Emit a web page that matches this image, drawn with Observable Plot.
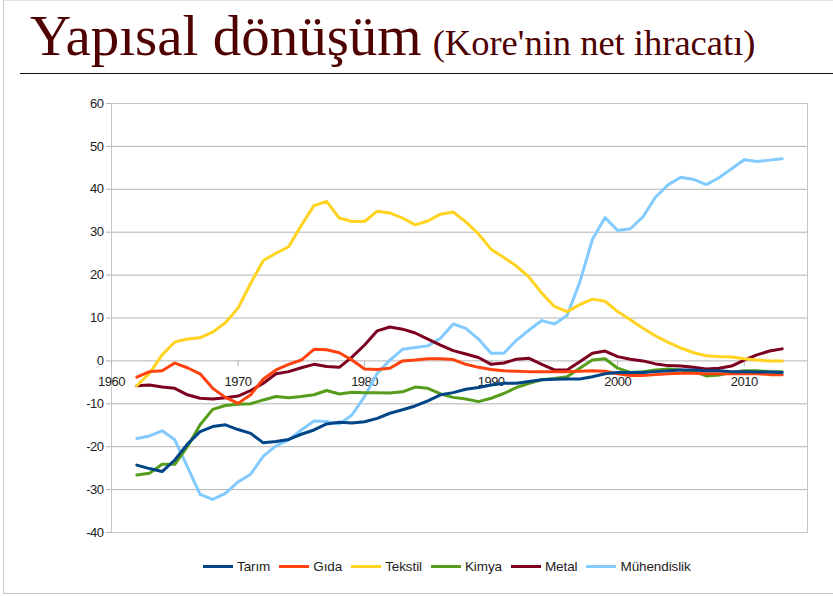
<!DOCTYPE html>
<html>
<head>
<meta charset="utf-8">
<script src="https://cdn.jsdelivr.net/npm/d3@7"></script>
<script src="https://cdn.jsdelivr.net/npm/@observablehq/plot@0.6"></script>
<style>
  html, body { margin: 0; padding: 0; background: #fff; }
  #page { position: relative; width: 833px; height: 596px; overflow: hidden; background: #fff; }
  #frame { position: absolute; left: 3px; top: 0; width: 840px; height: 592px; border-left: 1px solid #c8c8c8; border-bottom: 1px solid #c8c8c8; border-top: 1px solid #e0e0e0; }
  #title { position: absolute; left: 30px; top: 7px; white-space: nowrap; font-family: "Liberation Serif", "Times New Roman", serif; color: #4f0000; line-height: 57px; }
  #title .main { font-size: 57px; }
  #title .sub { font-size: 36.5px; margin-left: 11px; }
  #rule { position: absolute; left: 20px; top: 73px; width: 813px; height: 0; border-top: 1.5px solid #111; }
  #chart { position: absolute; left: 0; top: 80px; }
  #legend { position: absolute; left: 203px; top: 559px; display: flex; align-items: center; gap: 9px; font-family: "Liberation Sans", Arial, sans-serif; font-size: 13.5px; color: #222; letter-spacing: -0.1px; }
  #legend .item { display: flex; align-items: center; gap: 4px; }
  #legend .sw { width: 30px; height: 3px; }
</style>
</head>
<body>
<div id="page">
  <div id="frame"></div>
  <div id="title"><span class="main">Yapısal dönüşüm</span><span class="sub">(Kore'nin net ihracatı)</span></div>
  <div id="rule"></div>
  <div id="chart"></div>
  <div id="legend"></div>
</div>
<script>
const years = [1962,1963,1964,1965,1966,1967,1968,1969,1970,1971,1972,1973,1974,1975,1976,1977,1978,1979,1980,1981,1982,1983,1984,1985,1986,1987,1988,1989,1990,1991,1992,1993,1994,1995,1996,1997,1998,1999,2000,2001,2002,2003,2004,2005,2006,2007,2008,2009,2010,2011,2012,2013];

const seriesNames = ["Tarım", "Gıda", "Tekstil", "Kimya", "Metal", "Mühendislik"];
const seriesColors = ["#004586", "#ff420e", "#ffd320", "#579d1c", "#7e0021", "#83caff"];

const tarim = [-24.3,-25.1,-25.8,-23.1,-19.4,-16.5,-15.3,-14.9,-16.0,-16.9,-19.1,-18.8,-18.3,-17.1,-16.1,-14.7,-14.3,-14.5,-14.2,-13.4,-12.2,-11.4,-10.5,-9.3,-7.9,-7.4,-6.6,-6.2,-5.6,-5.2,-5.2,-4.8,-4.4,-4.3,-4.2,-4.2,-3.7,-3.0,-2.7,-2.7,-2.7,-2.5,-2.3,-2.1,-2.1,-2.3,-2.3,-2.5,-2.5,-2.6,-2.6,-2.7];
const gida = [-3.8,-2.5,-2.3,-0.5,-1.6,-3.0,-6.4,-8.5,-9.9,-7.9,-4.2,-2.1,-0.8,0.2,2.7,2.6,1.9,0.2,-1.9,-2.0,-1.7,0.0,0.2,0.5,0.5,0.3,-0.8,-1.5,-2.0,-2.3,-2.4,-2.5,-2.5,-2.5,-2.5,-2.4,-2.3,-2.4,-3.0,-3.4,-3.4,-3.2,-3.0,-2.9,-2.9,-3.0,-3.0,-3.0,-3.0,-3.0,-3.2,-3.2];
const tekstil = [-5.8,-2.9,1.4,4.4,5.1,5.4,6.7,8.9,12.3,18.1,23.4,25.1,26.6,31.6,36.2,37.2,33.3,32.5,32.5,34.9,34.5,33.3,31.7,32.6,34.2,34.7,32.4,29.6,26.0,24.1,22.1,19.5,15.8,12.7,11.5,13.1,14.4,13.9,11.5,9.6,7.6,5.8,4.3,3.0,1.9,1.2,1.0,0.9,0.5,0.2,0.0,0.0];
const kimya = [-26.6,-26.2,-24.1,-24.1,-20.0,-14.9,-11.3,-10.4,-10.1,-10.0,-9.1,-8.3,-8.6,-8.3,-7.9,-6.9,-7.7,-7.3,-7.4,-7.4,-7.5,-7.2,-6.1,-6.4,-7.7,-8.5,-8.9,-9.5,-8.7,-7.6,-6.2,-5.2,-4.4,-4.1,-3.7,-1.7,0.2,0.5,-1.7,-2.7,-2.5,-2.1,-1.9,-2.1,-2.5,-3.5,-3.3,-2.7,-2.3,-2.3,-2.5,-2.5];
const metal = [-5.8,-5.6,-6.1,-6.4,-7.9,-8.7,-8.9,-8.6,-8.2,-6.9,-5.2,-3.0,-2.5,-1.6,-0.8,-1.3,-1.5,0.9,3.7,7.0,7.9,7.4,6.5,5.1,3.7,2.4,1.6,0.8,-0.8,-0.5,0.4,0.6,-0.8,-2.1,-2.1,-0.2,1.8,2.3,1.0,0.4,0.0,-0.7,-1.1,-1.2,-1.5,-1.9,-1.7,-1.2,0.2,1.4,2.3,2.8];
const muhendislik = [-18.1,-17.5,-16.3,-18.4,-24.7,-31.1,-32.3,-30.9,-28.2,-26.4,-22.2,-19.8,-18.4,-16.1,-14.0,-14.1,-14.7,-12.6,-8.3,-2.9,0.2,2.7,3.1,3.5,5.3,8.6,7.6,5.1,1.8,1.8,4.8,7.2,9.4,8.6,10.6,18.3,28.3,33.4,30.4,30.8,33.6,38.2,41.1,42.8,42.3,41.1,42.7,44.8,46.9,46.5,46.8,47.1];

const xTicks = [1960, 1970, 1980, 1990, 2000, 2010];
const yTicks = [-40, -30, -20, -10, 0, 10, 20, 30, 40, 50, 60];

const seriesValues = [tarim, gida, tekstil, kimya, metal, muhendislik];

// draw order: last legend entry first, Tarım on top
const rows = [];
for (let s = seriesNames.length - 1; s >= 0; s--) {
  years.forEach((yr, i) => rows.push({year: yr, value: seriesValues[s][i], series: seriesNames[s]}));
}

const chart = Plot.plot({
  width: 833,
  height: 480,
  marginLeft: 111,
  marginRight: 26,
  marginTop: 23,
  marginBottom: 28,
  style: {fontFamily: "'Liberation Sans', Arial, sans-serif", fontSize: "13px", color: "#222", background: "transparent"},
  x: {domain: [1960, 2015], axis: null},
  y: {domain: [-40, 60], axis: null},
  color: {domain: seriesNames, range: seriesColors},
  marks: [
    Plot.gridY(yTicks, {stroke: "#b3b3b3", strokeOpacity: 1}),
    Plot.frame({stroke: "#c6c6c6"}),
    Plot.axisY(yTicks, {tickSize: 5, tickPadding: 3, stroke: "#b3b3b3", fill: "#222", label: null, tickFormat: d => String(d)}),
    Plot.ruleX(xTicks, {x: d => d, y1: 0, y2: -1.35, stroke: "#b3b3b3"}),
    Plot.text(xTicks, {x: d => d, y: 0, dy: 21, text: d => String(d), fill: "#222", fontSize: 13}),
    Plot.line(rows, {x: "year", y: "value", z: "series", stroke: "series", strokeWidth: 3, strokeLinejoin: "round", strokeLinecap: "round"})
  ]
});
document.getElementById("chart").appendChild(chart);
chart.querySelectorAll("text").forEach(t => t.style.letterSpacing = "-0.5px");

const legend = document.getElementById("legend");
seriesNames.forEach((name, i) => {
  const item = document.createElement("div");
  item.className = "item";
  const sw = document.createElement("div");
  sw.className = "sw";
  sw.style.background = seriesColors[i];
  const label = document.createElement("span");
  label.textContent = name;
  item.appendChild(sw);
  item.appendChild(label);
  legend.appendChild(item);
});
</script>
</body>
</html>
